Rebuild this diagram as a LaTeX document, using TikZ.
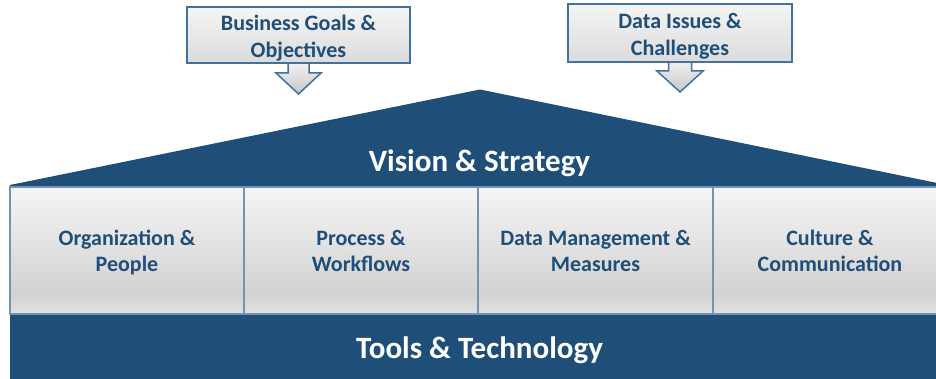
\documentclass[tikz,border=0pt]{standalone}
\usepackage{fontspec}
\setmainfont{Carlito}
\definecolor{navy}{HTML}{1F4E79}
\definecolor{pborder}{HTML}{7393B5}
\definecolor{cborder}{HTML}{41719C}
\definecolor{ptop}{HTML}{F5F5F5}
\definecolor{pmid}{HTML}{D2D2D2}
\definecolor{pbot}{HTML}{E2E2E2}
\pgfdeclareverticalshading{pillarshade}{100bp}{color(0bp)=(pbot); color(25bp)=(pbot); color(33bp)=(pmid); color(75bp)=(ptop); color(100bp)=(ptop)}
\tikzset{
  pillar/.style={draw=pborder, line width=1.5pt, shading=pillarshade, minimum width=234pt, minimum height=127pt, inner sep=0pt},
  pillartext/.style={align=center, text=navy, inner sep=0pt, yshift=-2pt, font=\bfseries\fontsize{22}{26}\selectfont},
  callout/.style={draw=cborder, line width=2pt, top color=white!96!black, bottom color=white!86!black, inner sep=0pt},
  callouttext/.style={align=center, text=navy, inner sep=0pt, yshift=-3pt, font=\bfseries\fontsize{22}{27}\selectfont},
  blockarrow/.style={draw=cborder, line width=1.5pt, top color=white!95!black, bottom color=white!78!black, line join=miter},
  bigtext/.style={text=white, font=\bfseries\fontsize{31}{36}\selectfont, inner sep=0pt}
}
\begin{document}
\begin{tikzpicture}[x=1pt,y=-1pt]
\useasboundingbox (0,0) rectangle (936,379);
\clip (0,0) rectangle (936,379);
% roof
\fill[navy] (10,187.5) -- (10,185) -- (480,89.5) -- (947,185) -- (947,187.5) -- cycle;
\node[bigtext, anchor=base] (vision) at (479.5,172) {Vision \& Strategy};
% bottom band
\fill[navy] (10,314) rectangle (947,379);
\node[bigtext, anchor=base] (tools) at (479.5,358) {Tools \& Technology};
% pillars
\node[pillar, label={[pillartext]center:Organization \&\\People}] (p1) at (127,250.5) {};
\node[pillar, label={[pillartext]center:Process \&\\Workflows\vphantom{p}}] (p2) at (361,250.5) {};
\node[pillar, label={[pillartext]center:Data Management \&\\Measures\vphantom{p}}] (p3) at (595.5,250.5) {};
\node[pillar, label={[pillartext]center:Culture \&\\Communication\vphantom{p}}] (p4) at (830,250.5) {};
% callout arrows
\coordinate (s1) at (298.5,62);
\coordinate (s2) at (680,60);
\filldraw[blockarrow] (s1) ++(-10.5,0) -- ++(0,11) -- ++(-12,0) -- ++(22.5,21) -- ++(22.5,-21) -- ++(-12,0) -- ++(0,-11);
\filldraw[blockarrow] (s2) ++(-11.5,0) -- ++(0,11) -- ++(-11.5,0) -- ++(23,21) -- ++(23,-21) -- ++(-11.5,0) -- ++(0,-11);
% callouts
\node[callout, minimum width=223pt, minimum height=56pt, label={[callouttext]center:Business Goals \&\\Objectives}] (c1) at (298.5,35) {};
\node[callout, minimum width=224pt, minimum height=58pt, label={[callouttext]center:Data Issues \&\\Challenges}] (c2) at (680,33) {};
\end{tikzpicture}
\end{document}
